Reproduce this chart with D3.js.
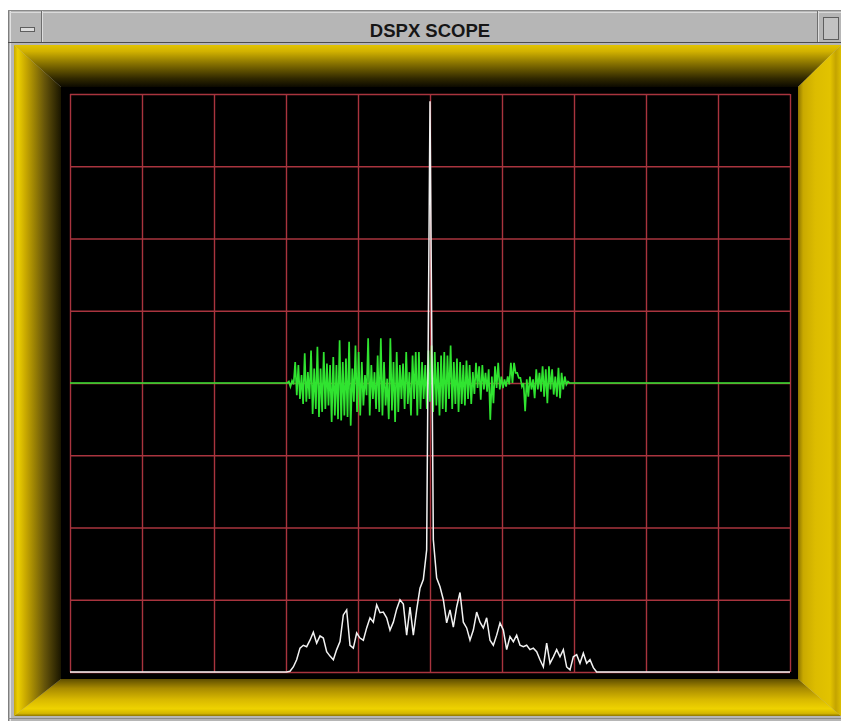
<!DOCTYPE html>
<html>
<head>
<meta charset="utf-8">
<title>DSPX SCOPE</title>
<script src="https://cdn.jsdelivr.net/npm/d3@7"></script>
<style>
  html, body { margin: 0; padding: 0; background: #ffffff; }
  svg { display: block; }
</style>
</head>
<body>
<script>
// ---- Scope content -------------------------------------------------------
const windowTitle = "DSPX SCOPE";

// Graticule: 10 horizontal x 8 vertical divisions
const gridCols = [0, 1, 2, 3, 4, 5, 6, 7, 8, 9, 10];
const gridRows = [0, 1, 2, 3, 4, 5, 6, 7, 8];

// Time-domain trace (volts, 1 V/div), sample index across the screen
const timeSamples = 454;
const timeStart = 137;
const timeTrace = [
  0, 0.02, -0.05, 0.03, -0.02,
  0.29, -0.17, 0.25, -0.22, 0.11, -0.29, 0.41, -0.26, 0.15, -0.22,
  0.45, -0.43, 0.20, -0.36, 0.50, -0.47, 0.20, -0.40, 0.43, -0.36,
  0.27, -0.31, 0.25, -0.54, 0.36, -0.45, 0.25, -0.50, 0.59, -0.52,
  0.29, -0.45, 0.34, -0.47, 0.57, -0.59, 0.20, -0.26, 0.52, -0.40,
  0.43, -0.45, 0.29, -0.31, 0.11, -0.17,
  0.62, -0.45, 0.25, -0.22, 0.15, -0.36, 0.38, -0.40, 0.62, -0.45,
  0.29, -0.31, 0.06, -0.50, 0.62, -0.38, 0.29, -0.54, 0.43, -0.40,
  0.25, -0.22, 0.27, -0.36, 0.43, -0.29, 0.15, -0.45, 0.38, -0.22,
  0.43, -0.45, 0.43, -0.36, 0.29, -0.22, 0.25, -0.36, 0.45, -0.26,
  0.52, -0.40, 0.43, -0.31, 0.29, -0.45, 0.38, -0.36, 0.43, -0.40,
  0.38, -0.22, 0.52, -0.36, 0.29, -0.29, 0.34, -0.40, 0.29, -0.29,
  0.25, -0.31, 0.31, -0.22, 0.25, -0.29, 0.15, -0.15,
  0.28, -0.07, 0.23, -0.23, 0.25, -0.09, 0.14, -0.12, 0.19, -0.51,
  0.09, -0.28, 0.23, -0.07, 0.28, -0.09, 0.09, -0.07, 0.05, -0.05,
  0.09, -0.02, 0.28, 0.00, 0.28, 0.14, 0.14, 0.07, 0.07, -0.05,
  0.00, -0.39, 0.05, -0.19, 0.09, -0.09, 0.05, -0.21, 0.19, -0.09,
  0.14, -0.12, 0.23, -0.19, 0.19, -0.28, 0.23, -0.09, 0.19, -0.16,
  0.09, -0.19, 0.21, -0.21, 0.14, -0.09, 0.09, -0.02, 0.02, 0
];

// Spectrum trace (dB above floor, 10 dB/div), FFT bin across the screen
const spectrumBins = 216;
const spectrumStart = 65;
const spectrum = [
  0, 0.1, 0.7, 1.7, 3.3, 3.7, 3.5, 4.4, 5.5, 4.0,
  5.0, 4.7, 2.8, 2.2, 1.7, 3.1, 4.2, 7.9, 8.6, 3.7,
  3.3, 5.4, 4.7, 4.4, 6.1, 7.5, 6.9, 9.3, 8.2, 8.3,
  7.5, 5.8, 6.9, 8.7, 10.0, 9.4, 5.1, 9.0, 5.1, 8.6,
  11.6, 12.8, 16.9, 79.0, 18.3, 13.0, 11.8, 10.0, 6.8, 8.6,
  6.2, 9.0, 11.0, 6.9, 6.1, 4.4, 5.8, 8.3, 6.9, 6.1,
  7.5, 4.4, 3.7, 5.1, 6.8, 5.8, 3.1, 4.9, 4.2, 5.1,
  3.7, 3.5, 3.7, 3.1, 3.3, 2.8, 1.7, 0.7, 4.0, 1.2,
  2.1, 3.1, 2.1, 3.1, 0.7, 0.3, 2.1, 2.4, 1.2, 2.6,
  1.2, 1.7, 0.6, 0
];

// ---- Layout --------------------------------------------------------------
const W = 841, H = 721;
const plot = { left: 70, right: 790, top: 94, bottom: 672 };
const outer = { x0: 14, y0: 45, x1: 841, y1: 716 };
const inner = { x0: 61, y0: 87, x1: 798, y1: 679 };

const svg = d3.select("body").append("svg")
  .attr("width", W).attr("height", H);

const defs = svg.append("defs");
function linGrad(id, x1, y1, x2, y2, stops) {
  const g = defs.append("linearGradient").attr("id", id)
    .attr("gradientUnits", "userSpaceOnUse")
    .attr("x1", x1).attr("y1", y1).attr("x2", x2).attr("y2", y2);
  stops.forEach(([o, c]) => g.append("stop").attr("offset", o).attr("stop-color", c));
}
linGrad("bevelTop", 0, outer.y0, 0, inner.y0,
  [[0, "#e2c400"], [0.15, "#d2b200"], [0.45, "#857000"], [0.8, "#302800"], [1, "#0c0a00"]]);
linGrad("bevelLeft", outer.x0, 0, inner.x0, 0,
  [[0, "#c8a800"], [0.08, "#ecd000"], [0.25, "#c8a800"], [0.65, "#66550a"], [1, "#1a1600"]]);
linGrad("bevelRight", inner.x1, 0, outer.x1, 0,
  [[0, "#8c7400"], [0.12, "#c9a900"], [0.4, "#dcbc00"], [0.75, "#e2c300"], [0.88, "#c4a400"], [1, "#dcbe00"]]);
linGrad("bevelBottom", 0, inner.y1, 0, outer.y1,
  [[0, "#5e4e00"], [0.25, "#a88a00"], [0.55, "#d8b800"], [0.8, "#eed200"], [0.93, "#d4b600"], [1, "#8c7400"]]);

// ---- Window chrome -------------------------------------------------------
svg.append("rect").attr("x", 8).attr("y", 10).attr("width", W - 8).attr("height", H - 10)
  .attr("fill", "#b6b6b6");
svg.append("line").attr("x1", 8.5).attr("y1", 10).attr("x2", 8.5).attr("y2", H)
  .attr("stroke", "#7e7e7e");
svg.append("line").attr("x1", 10.5).attr("y1", 11).attr("x2", 10.5).attr("y2", H)
  .attr("stroke", "#e2e2e2");
svg.append("line").attr("x1", 8).attr("y1", 10.5).attr("x2", W).attr("y2", 10.5)
  .attr("stroke", "#8a8a8a");
svg.append("line").attr("x1", 10).attr("y1", 12.5).attr("x2", W).attr("y2", 12.5)
  .attr("stroke", "#dadada");
svg.append("line").attr("x1", 8).attr("y1", 42.5).attr("x2", W).attr("y2", 42.5)
  .attr("stroke", "#4c4c4c");
svg.append("line").attr("x1", 8).attr("y1", 718.5).attr("x2", W).attr("y2", 718.5)
  .attr("stroke", "#8a8a8a");

// left (minimise) button
svg.append("line").attr("x1", 41.5).attr("y1", 11).attr("x2", 41.5).attr("y2", 42)
  .attr("stroke", "#6e6e6e");
svg.append("line").attr("x1", 42.5).attr("y1", 11).attr("x2", 42.5).attr("y2", 42)
  .attr("stroke", "#dedede");
svg.append("rect").attr("x", 20.5).attr("y", 27.5).attr("width", 14).attr("height", 4)
  .attr("fill", "#dcdcdc").attr("stroke", "#5e5e5e");

// right (maximise) button
svg.append("line").attr("x1", 817.5).attr("y1", 11).attr("x2", 817.5).attr("y2", 42)
  .attr("stroke", "#6e6e6e");
svg.append("line").attr("x1", 818.5).attr("y1", 11).attr("x2", 818.5).attr("y2", 42)
  .attr("stroke", "#dedede");
svg.append("rect").attr("x", 823.5).attr("y", 17.5).attr("width", 15).attr("height", 22)
  .attr("fill", "#c2c2c2").attr("stroke", "#5e5e5e");

svg.append("text")
  .attr("x", 430).attr("y", 36.5)
  .attr("text-anchor", "middle")
  .attr("font-family", "'Liberation Sans', Arial, sans-serif")
  .attr("font-weight", "bold")
  .attr("font-size", 18.5)
  .attr("fill", "#161616")
  .text(windowTitle);

// ---- Gold bevelled bezel -------------------------------------------------
const pts = a => a.map(p => p.join(",")).join(" ");
const bezel = svg.append("g");
bezel.append("polygon").attr("fill", "url(#bevelTop)").attr("points",
  pts([[outer.x0, outer.y0], [outer.x1, outer.y0], [inner.x1, inner.y0], [inner.x0, inner.y0]]));
bezel.append("polygon").attr("fill", "url(#bevelBottom)").attr("points",
  pts([[outer.x0, outer.y1], [inner.x0, inner.y1], [inner.x1, inner.y1], [outer.x1, outer.y1]]));
bezel.append("polygon").attr("fill", "url(#bevelLeft)").attr("points",
  pts([[outer.x0, outer.y0], [inner.x0, inner.y0], [inner.x0, inner.y1], [outer.x0, outer.y1]]));
bezel.append("polygon").attr("fill", "url(#bevelRight)").attr("points",
  pts([[outer.x1, outer.y0], [outer.x1, outer.y1], [inner.x1, inner.y1], [inner.x1, inner.y0]]));

// screen
svg.append("rect")
  .attr("x", inner.x0).attr("y", inner.y0)
  .attr("width", inner.x1 - inner.x0).attr("height", inner.y1 - inner.y0)
  .attr("fill", "#000000");

// ---- Graticule -----------------------------------------------------------
const divX = d3.scaleLinear().domain([0, 10]).range([plot.left, plot.right]);
const divY = d3.scaleLinear().domain([0, 8]).range([plot.bottom, plot.top]);
const gridColor = "#a8343e";

const gx = svg.append("g")
  .attr("transform", `translate(0,${plot.bottom})`)
  .call(d3.axisBottom(divX).tickValues(gridCols).tickFormat("")
    .tickSize(-(plot.bottom - plot.top)).tickSizeOuter(0));
const gy = svg.append("g")
  .attr("transform", `translate(${plot.left},0)`)
  .call(d3.axisLeft(divY).tickValues(gridRows).tickFormat("")
    .tickSize(-(plot.right - plot.left)).tickSizeOuter(0));
[gx, gy].forEach(g => {
  g.select(".domain").remove();
  g.selectAll(".tick line").attr("stroke", gridColor).attr("stroke-width", 1.4);
});

// ---- Traces --------------------------------------------------------------
const xT = d3.scaleLinear().domain([0, timeSamples]).range([plot.left, plot.right]);
const yT = d3.scaleLinear().domain([-4, 4]).range([plot.bottom, plot.top]);
const timePoints = [[0, 0]]
  .concat(timeTrace.map((v, k) => [timeStart + k, v]))
  .concat([[timeSamples, 0]]);
svg.append("path")
  .datum(timePoints)
  .attr("fill", "none")
  .attr("stroke", "#30e430")
  .attr("stroke-width", 1.7)
  .attr("stroke-linejoin", "miter")
  .attr("d", d3.line().x(d => xT(d[0])).y(d => yT(d[1])));

const xS = d3.scaleLinear().domain([0, spectrumBins]).range([plot.left, plot.right]);
const yS = d3.scaleLinear().domain([0, 80]).range([plot.bottom, plot.top]);
const specPoints = [[0, 0]]
  .concat(spectrum.map((v, k) => [spectrumStart + k, v]))
  .concat([[spectrumBins, 0]]);
svg.append("path")
  .datum(specPoints)
  .attr("fill", "none")
  .attr("stroke", "#f2f2f2")
  .attr("stroke-width", 1.5)
  .attr("stroke-linejoin", "miter")
  .attr("d", d3.line().x(d => xS(d[0])).y(d => yS(d[1])));
</script>
</body>
</html>
